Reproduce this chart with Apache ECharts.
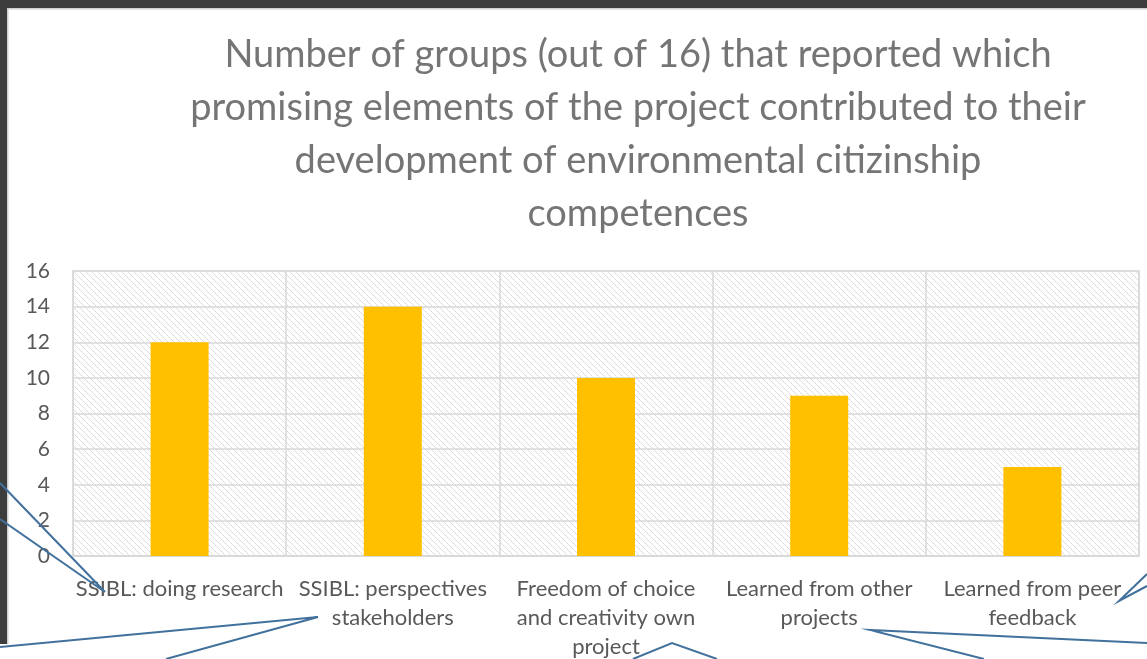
<!DOCTYPE html>
<html>
<head>
<meta charset="utf-8">
<script src="https://cdn.jsdelivr.net/npm/echarts@6/dist/echarts.min.js"></script>
<style>
  html, body { margin: 0; padding: 0; background: #fff; }
  #chart { width: 1147px; height: 659px; }
</style>
</head>
<body>
<div id="chart"></div>
<script>
// chart data
var categories = [
  'SSIBL: doing research',
  'SSIBL: perspectives\nstakeholders',
  'Freedom of choice\nand creativity own\nproject',
  'Learned from other\nprojects',
  'Learned from peer\nfeedback'
]
var groupCounts = [12, 14, 10, 9, 5]
var yTicks = { min: 0, max: 16, interval: 2 }
var titleText = 'Number of groups (out of 16) that reported which\npromising elements of the project contributed to their\ndevelopment of environmental citizinship\ncompetences'

// hatched plot background
function hatchPattern() {
  var c = document.createElement('canvas')
  c.width = 6
  c.height = 6
  var ctx = c.getContext('2d')
  ctx.fillStyle = '#ffffff'
  ctx.fillRect(0, 0, 6, 6)
  for (var i = 0; i < 6; i++) {
    ctx.fillStyle = i % 2 ? '#d4d4d4' : '#e4e4e4'
    ctx.fillRect(i, i, 1, 1)
  }
  return { image: c, repeat: 'repeat' }
}

var calloutColor = '#41719c'
function callout(points) {
  return {
    type: 'polyline',
    z: 100,
    shape: { points: points },
    style: { stroke: calloutColor, lineWidth: 2, fill: null }
  }
}

var chart = echarts.init(document.getElementById('chart'))
chart.setOption({
  animation: false,
  backgroundColor: '#fff',
  textStyle: { fontFamily: 'Lato' },
  title: {
    text: titleText,
    left: 633,
    top: 23,
    textAlign: 'center',
    textStyle: {
      fontFamily: 'Lato',
      fontSize: 38,
      fontWeight: 'normal',
      color: '#757575',
      lineHeight: 53
    }
  },
  grid: {
    left: 73,
    right: 8,
    top: 271,
    bottom: 103,
    show: true,
    backgroundColor: hatchPattern(),
    borderColor: '#d9d9d9',
    borderWidth: 1.5,
    outerBoundsMode: 'none'
  },
  xAxis: {
    type: 'category',
    data: categories,
    axisLine: { show: true, lineStyle: { color: '#d9d9d9', width: 1.5 } },
    axisTick: { show: false },
    splitLine: { show: true, lineStyle: { color: '#d9d9d9', width: 1.5 } },
    axisLabel: {
      interval: 0,
      margin: 18,
      fontSize: 22,
      lineHeight: 29,
      color: '#595959',
      fontFamily: 'Lato'
    }
  },
  yAxis: {
    type: 'value',
    min: yTicks.min,
    max: yTicks.max,
    interval: yTicks.interval,
    axisLine: { show: false },
    axisTick: { show: false },
    splitLine: { show: true, lineStyle: { color: '#d9d9d9', width: 1.5 } },
    axisLabel: {
      margin: 23,
      fontSize: 21,
      color: '#595959',
      fontFamily: 'Lato'
    }
  },
  series: [
    {
      type: 'bar',
      data: groupCounts,
      barWidth: 58,
      itemStyle: { color: '#ffc000' }
    }
  ],
  graphic: [
    // dark frame of the screenshot
    { type: 'rect', z: 50, shape: { x: 0, y: 0, width: 1147, height: 8 }, style: { fill: '#3d3d3d' } },
    { type: 'rect', z: 50, shape: { x: 0, y: 0, width: 7, height: 644 }, style: { fill: '#3d3d3d' } },
    { type: 'rect', z: 50, shape: { x: 7, y: 8, width: 1140, height: 1.5 }, style: { fill: '#cfcfcf' } },
    { type: 'rect', z: 50, shape: { x: 7, y: 8, width: 1.5, height: 636 }, style: { fill: '#cfcfcf' } },
    // callout pointers
    callout([[0, 483], [105, 592], [0, 519]]),
    callout([[0, 647], [318, 617], [166, 659]]),
    callout([[633, 659], [672, 643], [717, 659]]),
    callout([[1147, 643], [870, 630], [984, 659]]),
    callout([[1147, 574], [1119, 601], [1147, 586]])
  ]
})
</script>
</body>
</html>
